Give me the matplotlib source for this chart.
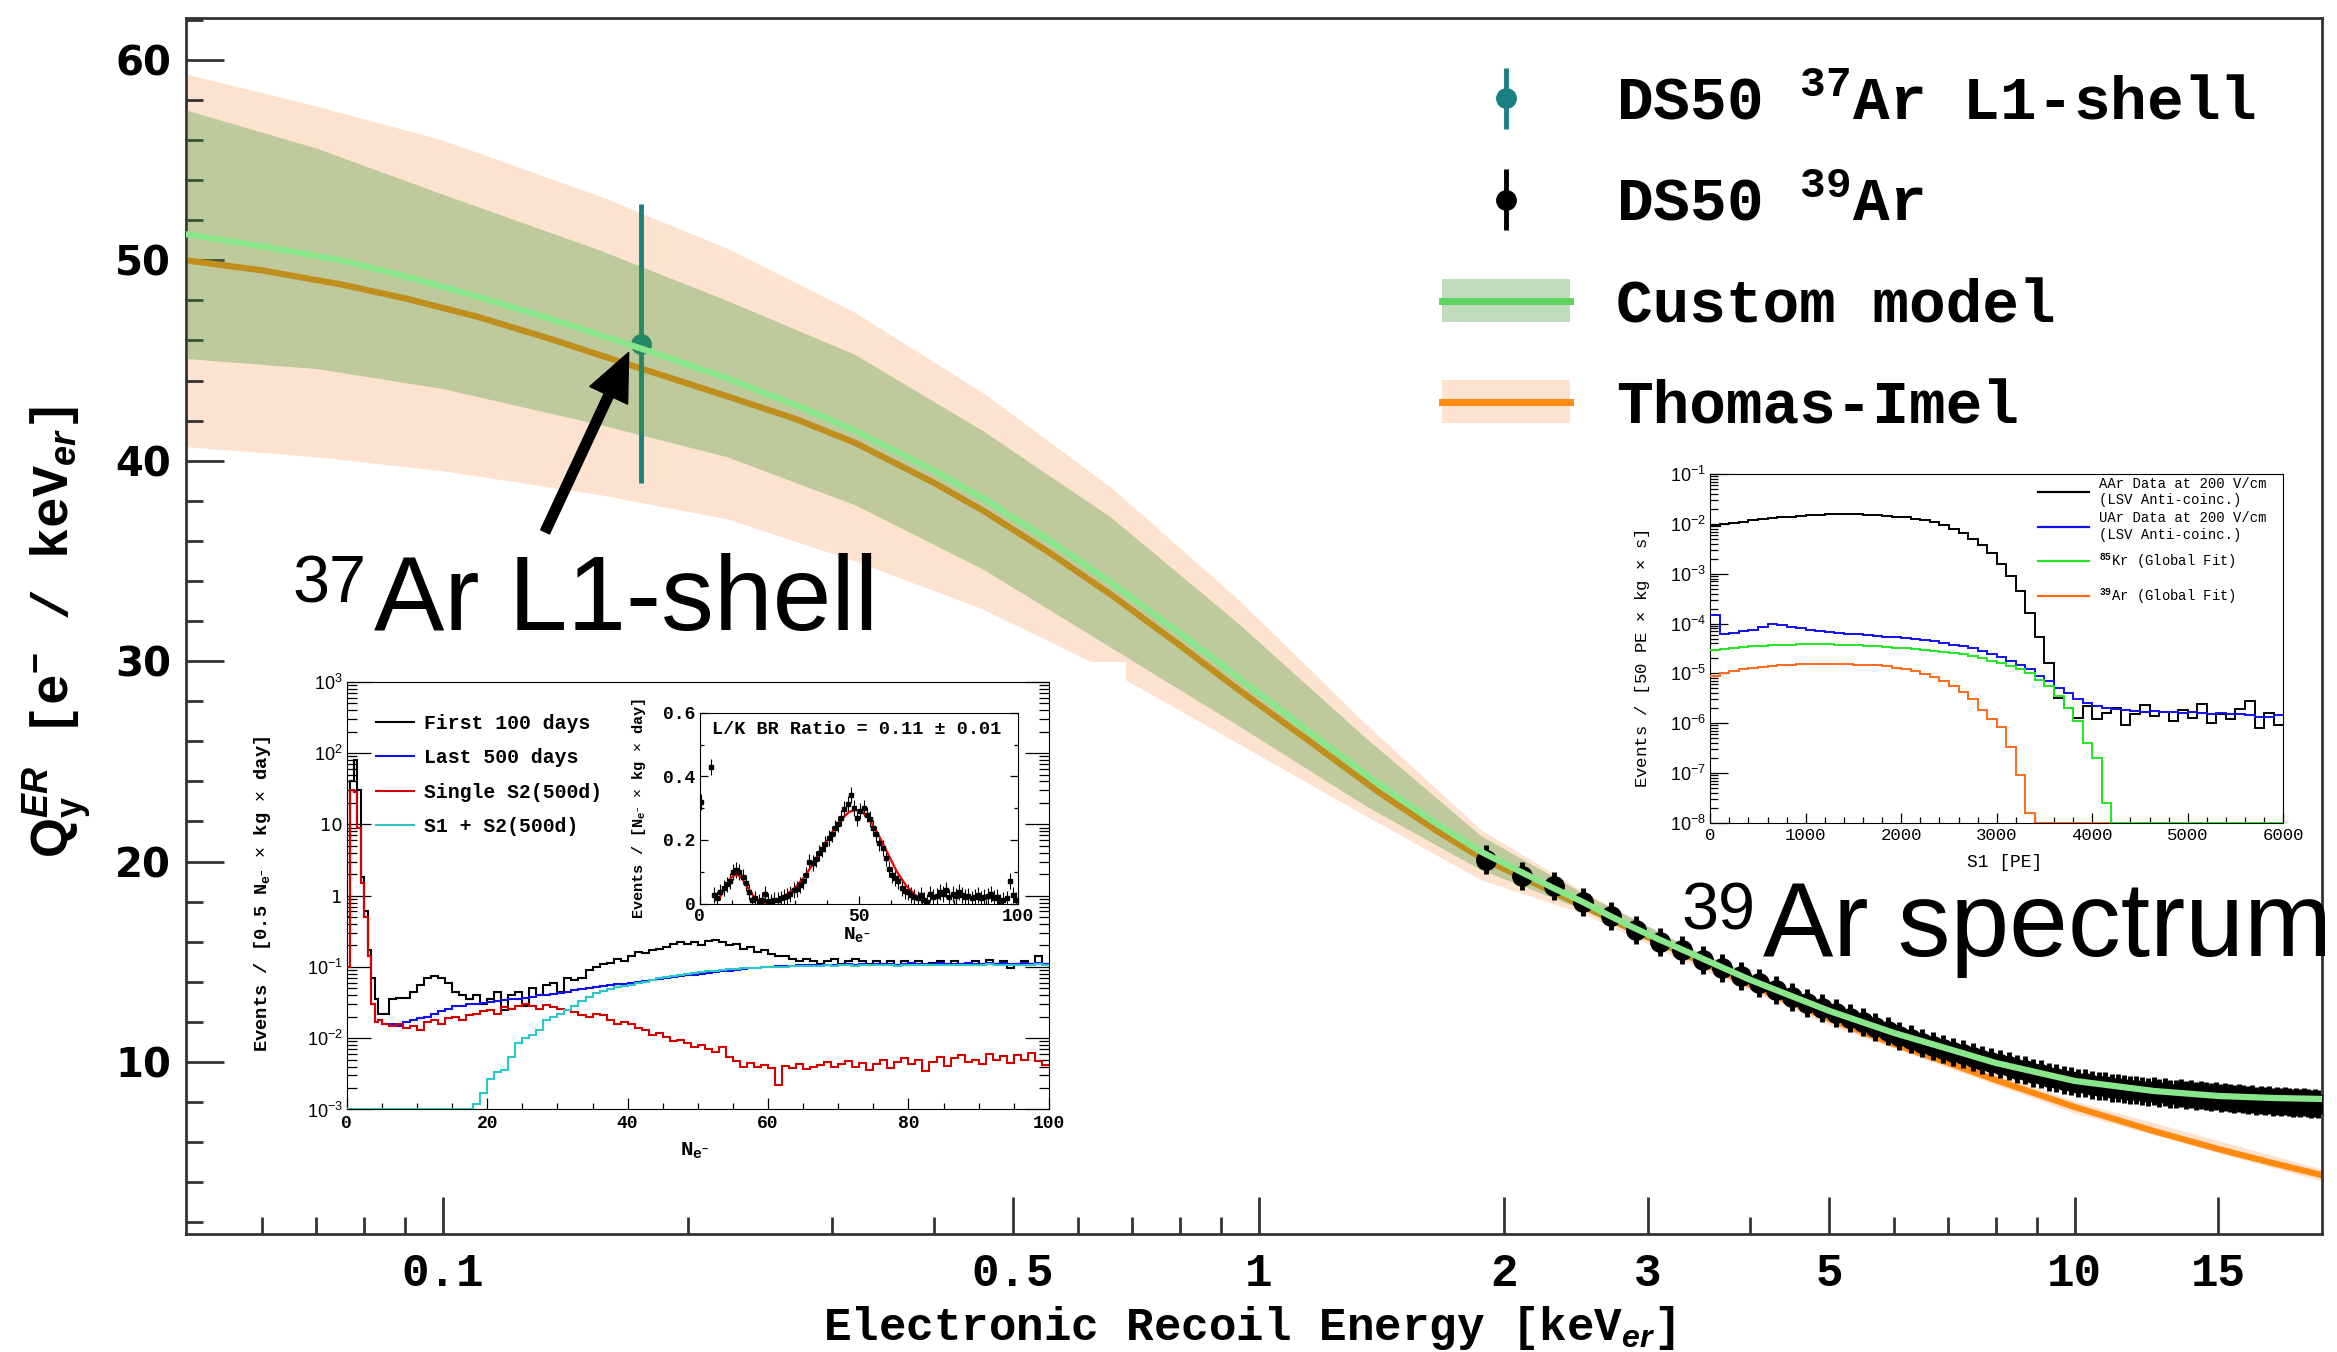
import numpy as np
import matplotlib
matplotlib.use('Agg')
import matplotlib.pyplot as plt
from matplotlib import ticker
from matplotlib.patches import Patch, Rectangle
from matplotlib.lines import Line2D
from matplotlib.legend_handler import HandlerTuple

plt.rcParams['mathtext.fontset'] = 'custom'
plt.rcParams['mathtext.rm'] = 'Liberation Sans'
plt.rcParams['mathtext.it'] = 'Liberation Sans:italic'
plt.rcParams['mathtext.bf'] = 'Liberation Sans:bold'
plt.rcParams['mathtext.bfit'] = 'Liberation Sans:italic:bold'
plt.rcParams['mathtext.tt'] = 'Liberation Mono:bold'
plt.rcParams['mathtext.sf'] = 'Liberation Sans'

MONO = 'Liberation Mono'
SANS = 'Liberation Sans'

# ---------------- main panel: charge yield vs recoil energy ----------------
CURVE_E = [0.0485, 0.06, 0.075, 0.09, 0.11, 0.135, 0.175, 0.22, 0.27, 0.32,
           0.40, 0.46, 0.55, 0.66, 0.80, 0.95, 1.15, 1.41, 1.65, 1.87,
           2.08, 2.29, 2.49, 2.69, 2.88, 3.08, 3.5, 4.0, 5.0, 6.0,
           7.0, 8.0, 10.0, 12.5, 15.0, 17.5, 20.1]
CUSTOM_Q = [51.3, 50.7, 50.0, 49.2, 48.2, 47.1, 45.6, 44.2, 42.8, 41.5,
            39.5, 38.1, 36.1, 33.9, 31.4, 29.1, 26.5, 23.8, 21.9, 20.5,
            19.55, 18.7, 18.0, 17.3, 16.7, 16.15, 15.15, 14.1, 12.55, 11.45,
            10.65, 9.95, 9.05, 8.55, 8.3, 8.2, 8.15]
THOMAS_IMEL_Q = [50.0, 49.5, 48.8, 48.1, 47.2, 46.1, 44.6, 43.3, 42.1, 40.9,
                 38.9, 37.5, 35.5, 33.3, 30.8, 28.5, 26.05, 23.4, 21.55, 20.2,
                 19.3, 18.5, 17.8, 17.15, 16.55, 16.0, 14.95, 13.85, 12.15, 10.9,
                 9.95, 9.1, 7.75, 6.55, 5.65, 4.95, 4.35]

BAND_E = [0.0485, 0.07, 0.1, 0.156, 0.223, 0.32, 0.459, 0.658, 0.943, 1.35,
          1.87, 2.5, 3.5, 5.0, 10.0, 20.1]
CUSTOM_HI = [57.5, 55.6, 53.3, 50.5, 48.0, 45.3, 41.5, 37.2, 31.9, 26.2,
             21.3, 18.4, 15.4, 12.8, 9.3, 8.4]
CUSTOM_LO = [45.1, 44.6, 43.6, 41.8, 40.2, 37.8, 34.6, 30.7, 26.8, 22.8,
             19.6, 17.6, 14.8, 12.3, 8.8, 7.9]
TI_HI = [59.3, 57.7, 56.0, 53.2, 50.6, 47.4, 43.4, 38.7, 33.1, 26.9,
         21.6, 18.5, 15.3, 12.45, 8.05, 4.65]
TI_LO = [40.7, 40.2, 39.5, 38.3, 37.1, 35.0, 32.6, 29.5, 25.9, 22.3,
         19.1, 17.4, 14.6, 11.85, 7.45, 4.05]

AR37_E = [0.175]
AR37_Q = [45.84]
AR37_ERR = [6.95]

AR39_E = np.arange(1.9, 19.95, 0.2)
AR39_Q = [20.1, 19.3, 18.8, 18.0, 17.3, 16.6, 16.0, 15.6, 15.1, 14.7,
          14.3, 13.95, 13.6, 13.25, 12.95, 12.7, 12.45, 12.2, 12.0, 11.75,
          11.55, 11.3, 11.15, 10.95, 10.8, 10.65, 10.5, 10.4, 10.25, 10.1,
          10.0, 9.9, 9.8, 9.65, 9.6, 9.45, 9.4, 9.25, 9.2, 9.1,
          9.05, 8.95, 8.95, 8.85, 8.8, 8.8, 8.7, 8.7, 8.65, 8.6,
          8.6, 8.55, 8.5, 8.55, 8.45, 8.5, 8.4, 8.4, 8.45, 8.35,
          8.4, 8.3, 8.35, 8.3, 8.25, 8.3, 8.2, 8.25, 8.2, 8.15,
          8.2, 8.15, 8.1, 8.15, 8.05, 8.1, 8.05, 8.1, 8.0, 8.05,
          8.0, 8.05, 8.0, 7.95, 8.0, 7.95, 8.0, 7.95, 7.9, 7.95,
          7.9]
AR39_ERR = 0.7

XMAJOR = [0.1, 0.5, 1, 2, 3, 5, 10, 15]
XLABELS = ['0.1', '0.5', '1', '2', '3', '5', '10', '15']
XMINOR = [0.06, 0.07, 0.08, 0.09, 0.2, 0.3, 0.4, 0.6, 0.7, 0.8, 0.9, 4, 6, 7, 8, 9]

# ---------------- left inset: N_e- spectra ----------------
NE_EDGES = np.concatenate([np.arange(0, 5, 0.5), np.arange(5, 101, 1)])
NE_FIRST100 = [0.5, 40, 80, 30, 1.8, 0.6, 0.17, 0.07, 0.035, 0.022,
               0.022, 0.035, 0.037, 0.037, 0.045, 0.055, 0.07, 0.075, 0.07, 0.06,
               0.045, 0.04, 0.036, 0.04, 0.03, 0.035, 0.045, 0.025, 0.04, 0.045,
               0.028, 0.05, 0.04, 0.055, 0.06, 0.045, 0.07, 0.065, 0.07, 0.09,
               0.1, 0.11, 0.115, 0.13, 0.12, 0.14, 0.16, 0.155, 0.17, 0.18,
               0.19, 0.21, 0.22, 0.21, 0.225, 0.2, 0.23, 0.24, 0.22, 0.2,
               0.21, 0.18, 0.19, 0.16, 0.17, 0.15, 0.14, 0.14, 0.13, 0.12,
               0.13, 0.12, 0.11, 0.12, 0.13, 0.11, 0.12, 0.13, 0.12, 0.11,
               0.12, 0.11, 0.12, 0.105, 0.12, 0.11, 0.12, 0.11, 0.115, 0.12,
               0.11, 0.12, 0.11, 0.105, 0.12, 0.11, 0.125, 0.11, 0.12, 0.095,
               0.11, 0.12, 0.11, 0.14, 0.11]
NE_LAST500 = [0.1, 30, 28, 9, 1.5, 0.5, 0.14, 0.03, 0.017, 0.018,
              0.016, 0.016, 0.015, 0.017, 0.018, 0.019, 0.02, 0.022, 0.024, 0.026,
              0.028, 0.028, 0.03, 0.03, 0.031, 0.032, 0.033, 0.034, 0.035, 0.036,
              0.037, 0.038, 0.04, 0.041, 0.042, 0.043, 0.045, 0.047, 0.049, 0.051,
              0.052, 0.054, 0.055, 0.057, 0.058, 0.06, 0.062, 0.064, 0.066, 0.068,
              0.07, 0.072, 0.074, 0.076, 0.078, 0.08, 0.083, 0.085, 0.087, 0.089,
              0.091, 0.093, 0.095, 0.097, 0.099, 0.1, 0.102, 0.103, 0.104, 0.105,
              0.106, 0.105, 0.107, 0.108, 0.106, 0.108, 0.109, 0.107, 0.11, 0.108,
              0.11, 0.109, 0.111, 0.108, 0.11, 0.112, 0.109, 0.111, 0.11, 0.112,
              0.11, 0.111, 0.109, 0.112, 0.11, 0.111, 0.113, 0.11, 0.112, 0.109,
              0.111, 0.112, 0.11, 0.113, 0.111]
NE_SINGLE_S2 = [0.1, 30, 28, 9, 1.5, 0.5, 0.14, 0.03, 0.017, 0.018,
                0.016, 0.015, 0.016, 0.014, 0.015, 0.013, 0.017, 0.018, 0.016, 0.019,
                0.02, 0.018, 0.021, 0.022, 0.024, 0.025, 0.022, 0.027, 0.026, 0.028,
                0.03, 0.028, 0.026, 0.029, 0.027, 0.026, 0.025, 0.023, 0.021, 0.02,
                0.022, 0.021, 0.018, 0.016, 0.017, 0.016, 0.014, 0.013, 0.011, 0.012,
                0.0105, 0.009, 0.0095, 0.0085, 0.0075, 0.008, 0.007, 0.0065, 0.0075, 0.0055,
                0.0048, 0.004, 0.0045, 0.004, 0.0042, 0.0038, 0.0022, 0.0041, 0.0038, 0.0043,
                0.0037, 0.004, 0.0042, 0.0046, 0.0039, 0.0043, 0.0048, 0.004, 0.0045, 0.0036,
                0.0044, 0.0049, 0.0038, 0.0046, 0.0052, 0.0043, 0.005, 0.0035, 0.0047, 0.0055,
                0.0041, 0.0053, 0.0058, 0.0046, 0.005, 0.0044, 0.006, 0.0049, 0.0057, 0.0045,
                0.0059, 0.005, 0.0062, 0.0048, 0.0042]
NE_S1S2 = [0.001, 0.001, 0.001, 0.001, 0.001, 0.001, 0.001, 0.001, 0.001, 0.001,
           0.001, 0.001, 0.001, 0.001, 0.001, 0.001, 0.001, 0.001, 0.001, 0.001,
           0.001, 0.001, 0.001, 0.0012, 0.0017, 0.0027, 0.0033, 0.0036, 0.0055, 0.0085,
           0.01, 0.011, 0.013, 0.018, 0.02, 0.022, 0.025, 0.028, 0.033, 0.038,
           0.043, 0.046, 0.049, 0.052, 0.054, 0.056, 0.06, 0.062, 0.066, 0.07,
           0.072, 0.075, 0.078, 0.08, 0.082, 0.085, 0.087, 0.089, 0.09, 0.092,
           0.094, 0.095, 0.096, 0.098, 0.099, 0.1, 0.101, 0.1, 0.102, 0.103,
           0.102, 0.104, 0.103, 0.105, 0.104, 0.106, 0.105, 0.104, 0.107, 0.105,
           0.106, 0.105, 0.107, 0.104, 0.106, 0.108, 0.105, 0.107, 0.106, 0.108,
           0.106, 0.107, 0.105, 0.108, 0.106, 0.107, 0.109, 0.106, 0.108, 0.105,
           0.107, 0.108, 0.106, 0.109, 0.107]

# inner panel: L/K capture peaks
LK_N = np.arange(0.5, 100, 1.0)
LK_RATE = [0.32, 1.5, 0.9, 0.43, 0.027, 0.016, 0.035, 0.048, 0.06, 0.07,
           0.1, 0.106, 0.1, 0.085, 0.065, 0.037, 0.01, 0.016, 0.005, 0.012,
           0.03, 0.008, 0.005, 0.012, 0.01, 0.016, 0.02, 0.025, 0.03, 0.042,
           0.045, 0.058, 0.07, 0.09, 0.13, 0.127, 0.14, 0.16, 0.17, 0.186,
           0.207, 0.22, 0.239, 0.25, 0.27, 0.297, 0.313, 0.34, 0.3, 0.27,
           0.29, 0.3, 0.28, 0.265, 0.239, 0.218, 0.19, 0.175, 0.143, 0.11,
           0.09, 0.08, 0.07, 0.048, 0.04, 0.037, 0.027, 0.02, 0.016, 0.027,
           0.01, 0.005, 0.03, 0.02, 0.025, 0.037, 0.03, 0.042, 0.02, 0.03,
           0.025, 0.037, 0.028, 0.02, 0.025, 0.016, 0.022, 0.027, 0.016, 0.02,
           0.024, 0.03, 0.018, 0.02, 0.005, 0.012, 0.016, 0.07, 0.027, 0.01]
LK_ERR = 0.025
FIT_N = [6, 8, 10, 11.5, 13, 15, 17, 19, 20.5, 22, 24, 27, 30, 33,
         36, 39, 42, 45, 47, 49, 51, 53, 56, 59, 62, 65, 68, 69.5]
FIT_Y = [0.013, 0.05, 0.083, 0.092, 0.083, 0.052, 0.022, 0.006, 0.002, 0.004,
         0.01, 0.026, 0.05, 0.085, 0.13, 0.18, 0.23, 0.27, 0.288, 0.295,
         0.288, 0.27, 0.22, 0.16, 0.1, 0.055, 0.025, 0.015]

# ---------------- right inset: S1 spectra ----------------
S1_EDGES = np.arange(0, 6001, 100)
S1_AAR = [0.009, 0.0098, 0.0105, 0.011, 0.0118, 0.0125, 0.013, 0.0136, 0.014, 0.0145,
          0.015, 0.0153, 0.0155, 0.0156, 0.0156, 0.0155, 0.0153, 0.015, 0.0146, 0.0141,
          0.0135, 0.0128, 0.012, 0.011, 0.0095, 0.0078, 0.0065, 0.005, 0.0037, 0.0026,
          0.0016, 9e-4, 4.5e-4, 1.6e-4, 5.5e-5, 1.6e-5, 3.2e-6, 2.0e-6, 1.3e-6, 2.2e-6,
          1.2e-6, 1.6e-6, 2.0e-6, 9e-7, 1.5e-6, 2.3e-6, 1.4e-6, 1.7e-6, 1.1e-6, 1.8e-6,
          1.3e-6, 2.4e-6, 1.0e-6, 1.5e-6, 1.2e-6, 1.9e-6, 2.8e-6, 8e-7, 1.6e-6, 9e-7]
S1_UAR = [1.5e-4, 6.2e-5, 6.5e-5, 7e-5, 7.5e-5, 8.5e-5, 1.0e-4, 9.2e-5, 8.5e-5, 8e-5,
          7.5e-5, 7.2e-5, 6.9e-5, 6.6e-5, 6.3e-5, 6.1e-5, 5.9e-5, 5.7e-5, 5.5e-5, 5.3e-5,
          5.1e-5, 4.9e-5, 4.6e-5, 4.4e-5, 4.1e-5, 3.8e-5, 3.5e-5, 3.2e-5, 2.8e-5, 2.5e-5,
          2.1e-5, 1.8e-5, 1.5e-5, 1.2e-5, 9e-6, 7e-6, 5.2e-6, 4e-6, 3.1e-6, 2.5e-6,
          2.2e-6, 2.0e-6, 1.9e-6, 1.8e-6, 1.75e-6, 1.7e-6, 1.75e-6, 1.65e-6, 1.7e-6, 1.6e-6,
          1.65e-6, 1.6e-6, 1.55e-6, 1.6e-6, 1.5e-6, 1.5e-6, 1.45e-6, 1.35e-6, 1.35e-6, 1.45e-6]
S1_KR85 = [3.0e-5, 3.1e-5, 3.2e-5, 3.35e-5, 3.5e-5, 3.6e-5, 3.7e-5, 3.75e-5, 3.8e-5, 3.85e-5,
           3.9e-5, 3.9e-5, 3.85e-5, 3.8e-5, 3.75e-5, 3.7e-5, 3.6e-5, 3.5e-5, 3.4e-5, 3.3e-5,
           3.2e-5, 3.1e-5, 3.0e-5, 2.85e-5, 2.7e-5, 2.55e-5, 2.4e-5, 2.2e-5, 2.0e-5, 1.8e-5,
           1.6e-5, 1.4e-5, 1.2e-5, 1.0e-5, 7.5e-6, 5.5e-6, 3.5e-6, 2.0e-6, 1.1e-6, 4e-7,
           2e-7, 2.5e-8, 1e-8, 1e-8, 1e-8, 1e-8, 1e-8, 1e-8, 1e-8, 1e-8,
           1e-8, 1e-8, 1e-8, 1e-8, 1e-8, 1e-8, 1e-8, 1e-8, 1e-8, 1e-8]
S1_AR39 = [9e-6, 1.0e-5, 1.1e-5, 1.2e-5, 1.3e-5, 1.35e-5, 1.4e-5, 1.45e-5, 1.5e-5, 1.55e-5,
           1.55e-5, 1.55e-5, 1.55e-5, 1.55e-5, 1.55e-5, 1.5e-5, 1.5e-5, 1.45e-5, 1.4e-5, 1.3e-5,
           1.2e-5, 1.1e-5, 9.8e-6, 8.5e-6, 7e-6, 5.5e-6, 4.3e-6, 3.1e-6, 1.8e-6, 1.2e-6,
           8.5e-7, 3.4e-7, 9e-8, 1.6e-8, 1e-8, 1e-8, 1e-8, 1e-8, 1e-8, 1e-8,
           1e-8, 1e-8, 1e-8, 1e-8, 1e-8, 1e-8, 1e-8, 1e-8, 1e-8, 1e-8,
           1e-8, 1e-8, 1e-8, 1e-8, 1e-8, 1e-8, 1e-8, 1e-8, 1e-8, 1e-8]

# ============================ figure ============================
fig = plt.figure(figsize=(23.37, 13.52), dpi=100)
ax = fig.add_axes([0.0797, 0.0871, 0.9139, 0.8997])
ax.set_xscale('log')
ax.set_xlim(0.0485, 20.1)
ax.set_ylim(1.4, 62.1)

ax.fill_between(BAND_E, TI_LO, TI_HI, color='#fde2d0', lw=0, zorder=1)
ax.plot(CURVE_E, THOMAS_IMEL_Q, color='#ff8a12', lw=4.5, zorder=2)
h37 = ax.errorbar(AR37_E, AR37_Q, yerr=AR37_ERR, fmt='o', color='#1a8080', ms=14,
                  elinewidth=3.5, capsize=0, zorder=3)
ax.fill_between(BAND_E, CUSTOM_LO, CUSTOM_HI, color='#3e9734', alpha=0.33, lw=0, zorder=4)
h39 = ax.errorbar(AR39_E, AR39_Q, yerr=AR39_ERR, fmt='o', color='black', ms=14,
                  elinewidth=3.5, capsize=0, zorder=4.5)
ax.plot(CURVE_E, CUSTOM_Q, color='#8ae68a', lw=4.5, zorder=5)

ax.annotate('', xy=(0.169, 45.4), xytext=(0.1335, 36.45),
            arrowprops=dict(arrowstyle='simple,head_length=3.4,head_width=3.0,tail_width=0.7',
                            mutation_scale=10, color='black', shrinkA=0, shrinkB=0),
            zorder=7)


def isotope_text(x, y, mass, body):
    # mass number as a raised small label, element text on the baseline after it
    ax.annotate(mass, (x, y), xytext=(0, 19.5), textcoords='offset points',
                family=SANS, fontsize=48, ha='left', va='baseline',
                annotation_clip=False, zorder=7)
    ax.annotate(body, (x, y), xytext=(58.5, 0), textcoords='offset points',
                family=SANS, fontsize=76, ha='left', va='baseline',
                annotation_clip=False, zorder=7)


isotope_text(0.0655, 31.56, '37', 'Ar L1-shell')
isotope_text(3.30, 15.26, '39', 'Ar spectrum')

leg = ax.legend([h37, h39,
                 (Patch(facecolor='#3e9734', alpha=0.33, lw=0), Line2D([], [], color='#5fd35f', lw=5)),
                 (Patch(facecolor='#fde2d0', lw=0), Line2D([], [], color='#ff8a12', lw=5))],
                [r'DS50 $^{\mathtt{37}}$Ar L1-shell', r'DS50 $^{\mathtt{39}}$Ar',
                 'Custom model', 'Thomas-Imel'],
                handler_map={tuple: HandlerTuple(ndivide=1, pad=0)},
                loc='upper left', bbox_to_anchor=(0.588, 0.953), frameon=False,
                prop={'family': MONO, 'weight': 'bold', 'size': 44},
                handlelength=2.1, handleheight=0.7, handletextpad=0.75,
                labelspacing=0.71, borderpad=0, borderaxespad=0)
leg.set_zorder(8)

ax.xaxis.set_major_locator(ticker.FixedLocator(XMAJOR))
ax.xaxis.set_major_formatter(ticker.FixedFormatter(XLABELS))
ax.xaxis.set_minor_locator(ticker.FixedLocator(XMINOR))
ax.xaxis.set_minor_formatter(ticker.NullFormatter())
ax.yaxis.set_major_locator(ticker.MultipleLocator(10))
ax.yaxis.set_minor_locator(ticker.MultipleLocator(2))
ax.tick_params(which='both', direction='in', top=False, right=False, width=2, color='#333333')
ax.tick_params(which='major', length=27)
ax.tick_params(which='minor', length=12)
ax.tick_params(axis='x', pad=13, labelsize=33)
ax.tick_params(axis='y', pad=11, labelsize=29)
plt.setp(ax.get_xticklabels(), family=MONO, fontweight='bold')
plt.setp(ax.get_yticklabels(), family='DejaVu Sans', fontweight='bold')
for sp in ax.spines.values():
    sp.set_color('#333333')
    sp.set_linewidth(2)

ax.set_xlabel(r'Electronic Recoil Energy [keV$_{\mathbfit{er}}$]', family=MONO,
              fontweight='bold', fontsize=33)
ax.xaxis.set_label_coords(0.4976, -0.057)
ax.set_ylabel(r'$\mathbf{Q}_{\mathbf{y}}^{\mathbfit{ER}}$ [e$^{\mathbf{-}}$ / keV$_{\mathbfit{er}}$]',
              family=MONO, fontweight='bold', fontsize=37)
ax.yaxis.set_label_coords(-0.043, 0.495)

# white backing of the left inset
fig.add_artist(Rectangle((0.1020, 0.1180), 0.3798, 0.3925, transform=fig.transFigure,
                         facecolor='white', edgecolor='none', zorder=1))

# ---------------- left inset ----------------
ax1 = fig.add_axes([0.1484, 0.1794, 0.3004, 0.3163])
ax1.set_zorder(2)
ax1.set_yscale('log')
ax1.set_xlim(0, 100)
ax1.set_ylim(1e-3, 1e3)
ax1.stairs(NE_FIRST100, NE_EDGES, color='black', lw=1.5, baseline=None, zorder=3,
           label='First 100 days')
ax1.stairs(NE_LAST500, NE_EDGES, color='#1010ee', lw=1.5, baseline=None, zorder=3,
           label='Last 500 days')
ax1.stairs(NE_SINGLE_S2, NE_EDGES, color='#d40000', lw=1.5, baseline=None, zorder=3,
           label='Single S2(500d)')
ax1.stairs(NE_S1S2, NE_EDGES, color='#2cc8c8', lw=1.5, baseline=None, zorder=3,
           label='S1 + S2(500d)')
ax1.legend(loc='upper left', bbox_to_anchor=(0.041, 0.925), frameon=False,
           prop={'family': MONO, 'weight': 'bold', 'size': 14.2},
           handlelength=1.95, handletextpad=0.5, labelspacing=0.78,
           borderpad=0, borderaxespad=0)
ax1.xaxis.set_major_locator(ticker.MultipleLocator(20))
ax1.xaxis.set_minor_locator(ticker.MultipleLocator(5))
ax1.yaxis.set_major_locator(ticker.FixedLocator([1e-3, 1e-2, 1e-1, 1, 10, 1e2, 1e3]))
ax1.yaxis.set_major_formatter(ticker.FixedFormatter(
    ['$10^{-3}$', '$10^{-2}$', '$10^{-1}$', '1', '10', '$10^{2}$', '$10^{3}$']))
ax1.yaxis.set_minor_locator(ticker.LogLocator(base=10, subs=np.arange(2, 10), numticks=20))
ax1.yaxis.set_minor_formatter(ticker.NullFormatter())
ax1.tick_params(which='both', direction='in', right=True, width=0.9)
ax1.tick_params(axis='y', which='major', length=17, labelsize=13, pad=3)
ax1.tick_params(axis='y', which='minor', length=7)
ax1.tick_params(axis='x', which='major', length=8, labelsize=13, pad=4)
ax1.tick_params(axis='x', which='minor', length=4)
plt.setp(ax1.get_xticklabels(), family=MONO, fontweight='bold')
ax1.set_ylabel(r'Events / [0.5 N$_{\mathtt{e}^{\mathtt{-}}}$ $\times$ kg $\times$ day]',
               family=MONO, fontweight='bold', fontsize=13.5)
ax1.yaxis.set_label_coords(-0.105, 0.503)
ax1.set_xlabel(r'N$_{\mathtt{e}^{\mathtt{-}}}$', family=MONO, fontweight='bold', fontsize=15)
ax1.xaxis.set_label_coords(0.495, -0.072)

# ---------------- inner inset ----------------
ax2 = fig.add_axes([0.2994, 0.3317, 0.1361, 0.1411])
ax2.set_zorder(3)
ax2.set_xlim(0, 100)
ax2.set_ylim(0, 0.6)
ax2.errorbar(LK_N, LK_RATE, yerr=LK_ERR, fmt='s', color='black', ms=2.2,
             elinewidth=0.8, capsize=0)
ax2.plot(FIT_N, FIT_Y, color='#ee0000', lw=1.6)
ax2.xaxis.set_major_locator(ticker.FixedLocator([0, 50, 100]))
ax2.xaxis.set_major_formatter(ticker.FixedFormatter(['0', '50', '100']))
ax2.xaxis.set_minor_locator(ticker.MultipleLocator(10))
ax2.yaxis.set_major_locator(ticker.FixedLocator([0, 0.2, 0.4, 0.6]))
ax2.yaxis.set_major_formatter(ticker.FixedFormatter(['0', '0.2', '0.4', '0.6']))
ax2.yaxis.set_minor_locator(ticker.MultipleLocator(0.1))
ax2.tick_params(which='both', direction='in', right=True, width=0.9, labelsize=13)
ax2.tick_params(which='major', length=6, pad=3)
ax2.tick_params(which='minor', length=3)
plt.setp(ax2.get_xticklabels() + ax2.get_yticklabels(), family=MONO, fontweight='bold')
ax2.text(0.04, 0.955, 'L/K BR Ratio = 0.11 ± 0.01', transform=ax2.transAxes,
         va='top', ha='left', family=MONO, fontweight='bold', fontsize=13.3)
ax2.set_ylabel(r'Events / [N$_{\mathtt{e}^{\mathtt{-}}}$ $\times$ kg $\times$ day]',
               family=MONO, fontweight='bold', fontsize=11)
ax2.yaxis.set_label_coords(-0.164, 0.5)
ax2.set_xlabel(r'N$_{\mathtt{e}^{\mathtt{-}}}$', family=MONO, fontweight='bold', fontsize=14)
ax2.xaxis.set_label_coords(0.493, -0.11)

# ---------------- right inset ----------------
ax3 = fig.add_axes([0.7318, 0.3914, 0.2452, 0.2579])
ax3.set_zorder(2)
ax3.set_yscale('log')
ax3.set_xlim(0, 6000)
ax3.set_ylim(1e-8, 1e-1)
ax3.stairs(S1_AAR, S1_EDGES, color='black', lw=1.4, baseline=None, zorder=3)
ax3.stairs(S1_UAR, S1_EDGES, color='#1010ee', lw=1.4, baseline=None, zorder=3)
ax3.stairs(S1_AR39, S1_EDGES, color='#ff6a1a', lw=1.4, baseline=None, zorder=3)
ax3.stairs(S1_KR85, S1_EDGES, color='#22e622', lw=1.4, baseline=None, zorder=3)
ax3.xaxis.set_major_locator(ticker.MultipleLocator(1000))
ax3.xaxis.set_minor_locator(ticker.MultipleLocator(200))
ax3.yaxis.set_major_locator(ticker.FixedLocator([10.0 ** k for k in range(-8, 0)]))
ax3.yaxis.set_major_formatter(ticker.FixedFormatter(
    ['$10^{-%d}$' % k for k in range(8, 0, -1)]))
ax3.yaxis.set_minor_locator(ticker.LogLocator(base=10, subs=np.arange(2, 10), numticks=20))
ax3.yaxis.set_minor_formatter(ticker.NullFormatter())
ax3.tick_params(which='both', direction='in', width=0.9)
ax3.tick_params(axis='y', which='major', length=13, labelsize=13, pad=3)
ax3.tick_params(axis='y', which='minor', length=6)
ax3.tick_params(axis='x', which='major', length=7, labelsize=12.5, pad=4)
ax3.tick_params(axis='x', which='minor', length=4)
plt.setp(ax3.get_xticklabels(), family=MONO)
ax3.set_ylabel(r'Events / [50 PE $\times$ kg $\times$ s]', family=MONO, fontsize=12.5)
ax3.yaxis.set_label_coords(-0.102, 0.472)
ax3.set_xlabel('S1 [PE]', family=MONO, fontsize=13)
ax3.xaxis.set_label_coords(0.513, -0.09)

s1_entries = [('AAr Data at 200 V/cm\n(LSV Anti-coinc.)', 'black', 0.949),
              ('UAr Data at 200 V/cm\n(LSV Anti-coinc.)', '#1010ee', 0.849),
              (r'$^{\mathtt{85}}$Kr (Global Fit)', '#22e622', 0.751),
              (r'$^{\mathtt{39}}$Ar (Global Fit)', '#ff6a1a', 0.650)]
for label, col, yy in s1_entries:
    ax3.plot([0.5725, 0.661], [yy, yy], transform=ax3.transAxes, color=col, lw=1.6)
    ax3.text(0.679, yy, label, transform=ax3.transAxes, va='center', ha='left',
             family=MONO, fontsize=10, linespacing=1.25)

fig.savefig('out.png', dpi=100)
